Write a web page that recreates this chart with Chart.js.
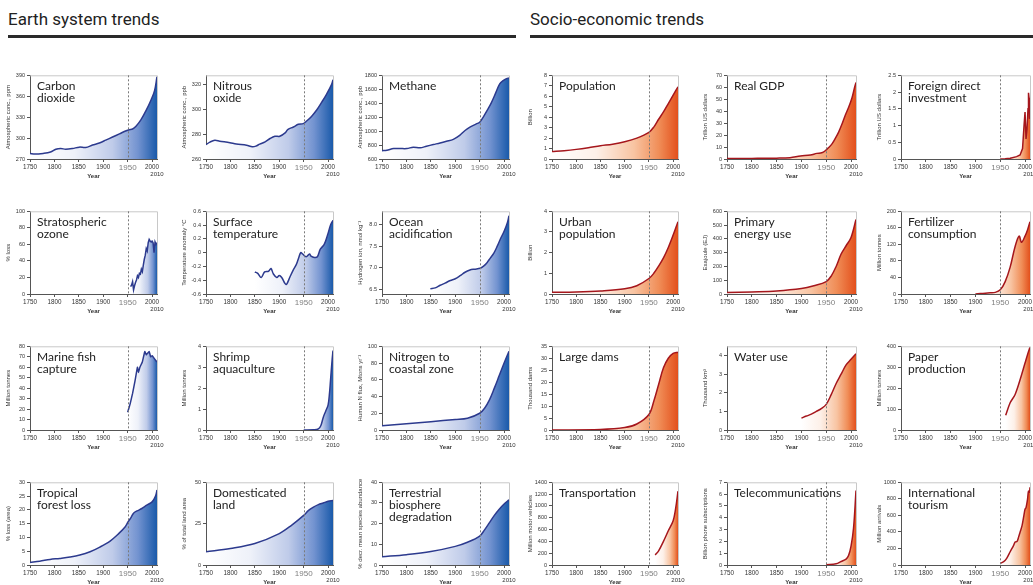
<!DOCTYPE html>
<html><head><meta charset="utf-8">
<script src="https://cdn.jsdelivr.net/npm/chart.js@4.4.1/dist/chart.umd.min.js"></script>
<style>
body{margin:0;width:1033px;height:585px;background:#fff;overflow:hidden;position:relative;font-family:'Open Sans',sans-serif}
.hdr{position:absolute;top:9px;font-family:'Liberation Sans Narrow','Roboto',sans-serif;font-size:17px;color:#222}
.bar{position:absolute;top:35px;height:3px;background:#2a2a2a}
canvas{position:absolute}
</style></head><body>
<div class="hdr" style="left:8px">Earth system trends</div>
<div class="bar" style="left:8px;width:508px"></div>
<div class="hdr" style="left:530px">Socio-economic trends</div>
<div class="bar" style="left:530px;width:503px"></div>
<script>
// ---------- DATA ----------
const xTickYears = [1750, 1800, 1850, 1900, 1950, 2000];

const co2Years = [1750,1760,1777,1792,1803,1813,1823,1837,1851,1864,1878,1892,1905,1919,1933,1947,1953,1960,1967,1977,1988,1998,2005,2010];
const co2Values = [278,277,278,280,284,285,284,285,287,286.5,290,293,297,301.5,306,310.5,312,313,317,326,340,355,368,388];
const co2Ticks = [270,300,330,360,390];

const n2oYears = [1750,1758,1768,1778,1799,1812,1833,1845,1852,1860,1871,1881,1891,1901,1912,1918,1929,1939,1949,1956,1966,1977,1987,1997,2007,2010];
const n2oValues = [271.5,273.5,275,274.3,273,272,271,269.8,270.3,271.9,273.7,276.4,278.2,278.2,280.9,283.8,285.6,287.8,288.3,290.4,294.1,299.4,305.5,312,319.5,323.5];
const n2oTicks = [260,280,300,320];

const ch4Years = [1750,1760,1774,1787,1801,1814,1828,1841,1855,1869,1882,1896,1909,1920,1930,1943,1950,1957,1965,1974,1983,1991,1998,2005,2010];
const ch4Values = [718,727,750,750,750,770,760,783,807,830,854,882,939,1009,1056,1103,1127,1198,1292,1409,1551,1678,1725,1753,1762];
const ch4Ticks = [600,800,1000,1200,1400,1600,1800];

const popYears = [1750,1775,1800,1825,1850,1875,1900,1925,1950,1960,1970,1980,1990,2000,2010];
const popValues = [0.72,0.8,0.92,1.08,1.27,1.42,1.65,2.0,2.55,3.05,3.8,4.5,5.3,6.1,6.9];
const popTicks = [0,1,2,3,4,5,6,7,8];

const gdpYears = [1750,1800,1850,1877,1898,1918,1931,1941,1948,1955,1962,1968,1975,1982,1988,1995,2002,2007,2010];
const gdpValues = [0.4,0.5,0.7,1.1,2.5,3.3,4.7,5.2,6.9,9.6,12.9,17,22.5,29.4,36.2,43.1,51.3,59.6,64];
const gdpTicks = [0,10,20,30,40,50,60,70];

const fdiYears = [1950,1960,1970,1983,1990,1995,1998,2000,2002,2004,2006,2007,2008,2009,2010];
const fdiValues = [0,0.005,0.02,0.07,0.12,0.31,1.0,1.4,0.6,0.9,1.5,1.98,1.83,1.2,1.29];
const fdiTicks = [0,0.5,1,1.5,2,2.5];

const ozoneYears = [1956,1958,1960,1962,1964,1966,1968,1970,1972,1974,1976,1978,1980,1982,1984,1986,1988,1990,1992,1994,1996,1998,2000,2002,2004,2006,2008,2010];
const ozoneValues = [9,11,15,5,10,14,17,22,20,25,24,30,27,35,42,47,55,52,62,66,64,63,64,62,50,63,60,62];
const ozoneTicks = [0,20,40,60,80,100];

const tempYears = [1850,1856,1863,1870,1878,1883,1888,1895,1900,1905,1912,1915,1922,1928,1935,1940,1944,1948,1955,1962,1965,1972,1978,1984,1992,1999,2005,2010];
const tempValues = [-0.28,-0.3,-0.36,-0.28,-0.27,-0.23,-0.31,-0.36,-0.33,-0.36,-0.45,-0.46,-0.35,-0.26,-0.17,-0.07,0,-0.02,-0.06,-0.02,-0.05,-0.07,-0.06,0.05,0.12,0.26,0.4,0.47];
const tempTicks = [-0.6,-0.4,-0.2,0,0.2,0.4,0.6];

const oceanYears = [1849,1859,1869,1879,1890,1900,1910,1920,1930,1939,1951,1958,1965,1972,1979,1986,1993,2000,2007,2010];
const oceanValues = [6.52,6.54,6.6,6.65,6.71,6.75,6.82,6.9,6.95,6.97,6.99,7.04,7.12,7.23,7.34,7.5,7.68,7.84,8.05,8.2];
const oceanTicks = [6.5,7.0,7.5,8.0];

const urbanYears = [1750,1800,1850,1900,1925,1950,1960,1970,1980,1990,2000,2010];
const urbanValues = [0.08,0.1,0.15,0.25,0.4,0.75,1.0,1.35,1.75,2.25,2.85,3.5];
const urbanTicks = [0,1,2,3,4];

const energyYears = [1750,1800,1850,1900,1925,1950,1960,1970,1980,1990,2000,2010];
const energyValues = [10,15,22,40,60,90,130,200,290,350,410,540];
const energyTicks = [0,100,200,300,400,500,600];

const fertYears = [1900,1910,1920,1930,1940,1950,1960,1970,1980,1988,1993,2000,2005,2010];
const fertValues = [0,1,2,3,4,10,30,65,115,140,125,140,155,175];
const fertTicks = [0,40,80,120,160,200];

const fishYears = [1950,1955,1960,1965,1970,1972,1975,1980,1985,1988,1990,1994,1997,2000,2005,2010];
const fishValues = [17,25,35,47,60,55,60,65,75,72,73,75,70,71,68,65];
const fishTicks = [0,10,20,30,40,50,60,70,80];

const shrimpYears = [1950,1970,1980,1985,1990,1995,2000,2003,2005,2008,2010];
const shrimpValues = [0,0.01,0.05,0.2,0.6,0.9,1.2,1.8,2.4,3.3,3.8];
const shrimpTicks = [0,1,2,3,4];

const nitroYears = [1750,1800,1850,1900,1925,1950,1960,1970,1980,1990,2000,2010];
const nitroValues = [5,7.5,10,12.5,14,20,26,36,50,65,80,94];
const nitroTicks = [0,10,20,30,40,50,60,70,80,90,100];

const damsYears = [1750,1850,1900,1925,1950,1960,1970,1980,1990,2000,2010];
const damsValues = [0,0.2,1,2.5,6.5,12,19,26,30,32,32.5];
const damsTicks = [0,5,10,15,20,25,30,35];

const waterYears = [1900,1910,1920,1930,1940,1950,1960,1970,1980,1990,2000,2010];
const waterValues = [0.64,0.75,0.85,1.0,1.15,1.38,1.9,2.5,3.0,3.5,3.8,4.1];
const waterTicks = [0,1,2,3,4];

const paperYears = [1961,1970,1980,1990,2000,2005,2010];
const paperValues = [70,130,170,240,320,360,395];
const paperTicks = [0,100,200,300,400];

const forestYears = [1750,1770,1791,1811,1832,1852,1873,1893,1914,1931,1945,1951,1957,1962,1969,1979,1989,2000,2007,2010];
const forestValues = [0.95,1.4,2.0,2.4,2.9,3.6,4.8,6.5,8.7,11.3,13.9,15.7,17.3,18.8,19.6,20.5,21.7,22.9,25,27.2];
const forestTicks = [0,5,10,15,20,25,30];

const landYears = [1750,1800,1850,1900,1925,1950,1960,1970,1980,1990,2000,2010];
const landValues = [8,10,13,19,24,30,33,35,36.5,37.5,38.5,39];
const landTicks = [0,25,50];

const bioYears = [1750,1800,1850,1900,1925,1950,1960,1970,1980,1990,2000,2010];
const bioValues = [4,5,6.5,9,11,14,17,20.5,24,27,29.5,31.5];
const bioTicks = [0,10,20,30,40];

const transYears = [1963,1970,1980,1990,2000,2005,2010];
const transValues = [170,240,400,580,750,950,1250];
const transTicks = [0,200,400,600,800,1000,1200,1400];

const telYears = [1950,1970,1980,1990,1995,2000,2005,2010];
const telValues = [0.03,0.1,0.3,0.5,0.8,1.6,3.1,6.3];
const telTicks = [0,1,2,3,4,5,6,7];

const tourYears = [1950,1957,1963,1970,1977,1980,1984,1987,1990,1994,1997,2000,2002,2005,2007,2009,2010];
const tourValues = [20,40,80,160,238,278,286,337,397,476,575,675,694,794,893,880,940];
const tourTicks = [0,200,400,600,800,1000];

// ---------- PANELS ----------
const panels = [
 {t:['Carbon','dioxide'], yt:'Atmospheric conc., ppm', xs:co2Years, ys:co2Values, tk:co2Ticks, min:270, max:390, c:'b'},
 {t:['Nitrous','oxide'], yt:'Atmospheric conc., ppb', xs:n2oYears, ys:n2oValues, tk:n2oTicks, min:260, max:327, c:'b'},
 {t:['Methane'], yt:'Atmospheric conc., ppb', xs:ch4Years, ys:ch4Values, tk:ch4Ticks, min:600, max:1800, c:'b'},
 {t:['Population'], yt:'Billion', xs:popYears, ys:popValues, tk:popTicks, min:0, max:8, c:'r'},
 {t:['Real GDP'], yt:'Trillion US dollars', xs:gdpYears, ys:gdpValues, tk:gdpTicks, min:0, max:70, c:'r'},
 {t:['Foreign direct','investment'], yt:'Trillion US dollars', xs:fdiYears, ys:fdiValues, tk:fdiTicks, min:0, max:2.5, c:'r', tension:0},
 {t:['Stratospheric','ozone'], yt:'% loss', xs:ozoneYears, ys:ozoneValues, tk:ozoneTicks, min:0, max:100, c:'b', tension:0},
 {t:['Surface','temperature'], yt:'Temperature anomaly °C', xs:tempYears, ys:tempValues, tk:tempTicks, min:-0.6, max:0.6, c:'b'},
 {t:['Ocean','acidification'], yt:'Hydrogen ion, nmol kg\u207B\u00B9', xs:oceanYears, ys:oceanValues, tk:oceanTicks, min:6.4, max:8.3, c:'b', dec:1},
 {t:['Urban','population'], yt:'Billion', xs:urbanYears, ys:urbanValues, tk:urbanTicks, min:0, max:4, c:'r'},
 {t:['Primary','energy use'], yt:'Exajoule (EJ)', xs:energyYears, ys:energyValues, tk:energyTicks, min:0, max:600, c:'r'},
 {t:['Fertilizer','consumption'], yt:'Million tonnes', xs:fertYears, ys:fertValues, tk:fertTicks, min:0, max:200, c:'r'},
 {t:['Marine fish','capture'], yt:'Million tonnes', xs:fishYears, ys:fishValues, tk:fishTicks, min:0, max:80, c:'b', tension:0.1},
 {t:['Shrimp','aquaculture'], yt:'Million tonnes', xs:shrimpYears, ys:shrimpValues, tk:shrimpTicks, min:0, max:4, c:'b'},
 {t:['Nitrogen to','coastal zone'], yt:'Human N flux, Mtons yr\u207B\u00B9', xs:nitroYears, ys:nitroValues, tk:nitroTicks, min:0, max:100, c:'b'},
 {t:['Large dams'], yt:'Thousand dams', xs:damsYears, ys:damsValues, tk:damsTicks, min:0, max:35, c:'r'},
 {t:['Water use'], yt:'Thousand km\u00B3', xs:waterYears, ys:waterValues, tk:waterTicks, min:0, max:4.5, c:'r'},
 {t:['Paper','production'], yt:'Million tonnes', xs:paperYears, ys:paperValues, tk:paperTicks, min:0, max:400, c:'r'},
 {t:['Tropical','forest loss'], yt:'% loss (area)', xs:forestYears, ys:forestValues, tk:forestTicks, min:0, max:30, c:'b'},
 {t:['Domesticated','land'], yt:'% of total land area', xs:landYears, ys:landValues, tk:landTicks, min:0, max:50, c:'b'},
 {t:['Terrestrial','biosphere','degradation'], yt:'% decr. mean species abundance', xs:bioYears, ys:bioValues, tk:bioTicks, min:0, max:40, c:'b'},
 {t:['Transportation'], yt:'Million motor vehicles', xs:transYears, ys:transValues, tk:transTicks, min:0, max:1400, c:'r'},
 {t:['Telecommunications'], yt:'Billion phone subscriptions', xs:telYears, ys:telValues, tk:telTicks, min:0, max:7, c:'r'},
 {t:['International','tourism'], yt:'Million arrivals', xs:tourYears, ys:tourValues, tk:tourTicks, min:0, max:1000, c:'r'}
];

// ---------- LAYOUT ----------
const colL = [30, 206, 382, 552, 727, 901];
const colR = [157, 333, 509, 678, 856, 1030];
const rowT = [74, 210, 345, 481];
const rowB = [159, 294, 430, 565];
const FONT = "'Liberation Sans', Arial, sans-serif";
const TFONT = "Lato, 'Open Sans', sans-serif";
const theme = {
  b: {line:'#2c3a8e', stops:[[0,'rgba(255,255,255,1)'],[0.35,'#eef1f9'],[0.65,'#bfcbe9'],[0.85,'#7393d0'],[1,'#1a5aaa']]},
  r: {line:'#a5161c', stops:[[0,'rgba(255,255,255,1)'],[0.35,'#fdf0e8'],[0.65,'#f8c4a2'],[0.85,'#f08d57'],[1,'#e3501c']]}
};

const framePlugin = {
  id:'frame',
  afterDatasetsDraw(chart){
    const {ctx, chartArea:a, scales:{x}} = chart;
    ctx.save();
    ctx.strokeStyle = '#c8c8c8'; ctx.lineWidth = 1;
    ctx.beginPath();
    ctx.moveTo(a.left, a.top + 0.5); ctx.lineTo(a.right + 0.5, a.top + 0.5); ctx.lineTo(a.right + 0.5, a.bottom);
    ctx.stroke();
    const xd = Math.round(x.getPixelForValue(1950)) + 0.5;
    ctx.strokeStyle = '#7a7a7a'; ctx.setLineDash([2, 2]);
    ctx.beginPath(); ctx.moveTo(xd, a.top); ctx.lineTo(xd, a.bottom); ctx.stroke();
    ctx.restore();
  },
  afterDraw(chart){
    const {ctx, chartArea:a, scales:{x}} = chart;
    const p = chart.options.plugins.frame;
    ctx.save();
    ctx.fillStyle = '#222'; ctx.font = "12px " + TFONT; ctx.textBaseline = 'top';
    p.title.forEach((s, i) => ctx.fillText(s, a.left + 7, a.top + 5 + i * 12));
    ctx.fillStyle = '#333'; ctx.font = "6px " + FONT; ctx.textAlign = 'center'; ctx.textBaseline = 'middle';
    ctx.fillText('2010', x.getPixelForValue(2010), a.bottom + 15);
    ctx.restore();
  }
};

panels.forEach((p, i) => {
  const col = i % 6, row = Math.floor(i / 6);
  const L = colL[col], R = colR[col], T = rowT[row], B = rowB[row];
  const yw = 25, pt = 4, xh = 21, pr = 10;
  const w = R - L + yw + pr, h = B - T + pt + xh;
  const cv = document.createElement('canvas');
  cv.width = w; cv.height = h;
  cv.style.left = (L - yw) + 'px'; cv.style.top = (T - pt) + 'px';
  cv.style.width = w + 'px'; cv.style.height = h + 'px';
  document.body.appendChild(cv);
  const th = theme[p.c];
  const pts = p.xs.map((x, k) => ({x: x, y: p.ys[k]}));
  new Chart(cv, {
    type: 'line',
    data: {datasets: [{
      data: pts, borderColor: th.line, borderWidth: 1.5, pointRadius: 0,
      tension: p.tension === undefined ? 0.35 : p.tension,
      fill: 'start',
      backgroundColor: (ctx) => {
        const c = ctx.chart, a = c.chartArea;
        if (!a) return 'rgba(0,0,0,0)';
        const xs = c.scales.x;
        const x0 = xs.getPixelForValue(p.xs[0]), x1 = xs.getPixelForValue(2010);
        const g = c.ctx.createLinearGradient(x0, 0, x1, 0);
        th.stops.forEach(s => g.addColorStop(s[0], s[1]));
        return g;
      }
    }]},
    options: {
      responsive: false, animation: false, devicePixelRatio: 1,
      layout: {padding: {top: pt, right: pr, left: 0, bottom: 0}},
      plugins: {legend: {display: false}, tooltip: {enabled: false}, frame: {title: p.t}},
      scales: {
        x: {
          type: 'linear', min: 1750, max: 2010,
          afterBuildTicks: s => { s.ticks = xTickYears.map(v => ({value: v})); },
          afterFit: s => { s.height = xh; },
          ticks: {
            autoSkip: false, maxRotation: 0, padding: 1,
            callback: v => String(v),
            font: c => (c.tick && c.tick.value === 1950) ? {family: FONT, size: 8} : {family: FONT, size: 6.3},
            color: c => (c.tick && c.tick.value === 1950) ? '#808080' : '#333'
          },
          grid: {drawOnChartArea: false, tickLength: 3, color: '#555'},
          border: {color: '#555'},
          title: {display: true, text: 'Year', padding: {top: 0, bottom: 0}, color: '#333', font: {family: FONT, size: 6, weight: 'bold'}}
        },
        y: {
          min: p.min, max: p.max,
          afterBuildTicks: s => { s.ticks = p.tk.map(v => ({value: v})); },
          afterFit: s => { s.width = yw; },
          ticks: {
            padding: 2, color: '#333', font: {family: FONT, size: 5.5},
            callback: v => p.dec ? v.toFixed(p.dec) : String(v)
          },
          grid: {drawOnChartArea: false, tickLength: 3, color: '#555'},
          border: {color: '#555'},
          title: {display: true, text: p.yt, padding: {top: 0, bottom: 1}, color: '#333', font: {family: FONT, size: 6}}
        }
      }
    },
    plugins: [framePlugin]
  });
});
</script>
</body></html>
